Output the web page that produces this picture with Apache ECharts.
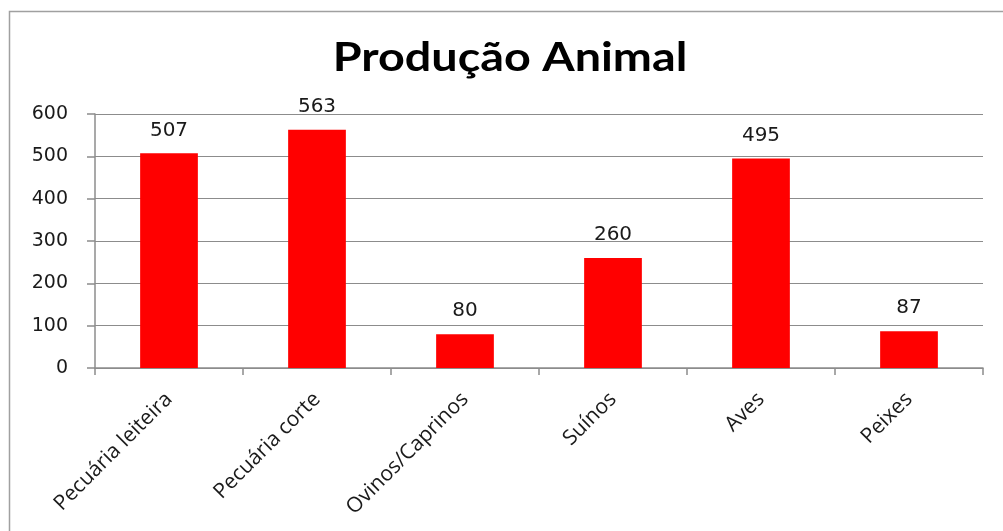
<!DOCTYPE html>
<html><head><meta charset="utf-8">
<script src="https://cdn.jsdelivr.net/npm/echarts@6/dist/echarts.min.js"></script>
<style>html,body{margin:0;padding:0;background:#fff}#c{width:1003px;height:531px}</style>
</head><body><div id="c"></div>
<script>
const categories = ["Pecuária leiteira", "Pecuária corte", "Ovinos/Caprinos", "Suínos", "Aves", "Peixes"];
const values = [507, 563, 80, 260, 495, 87];
const yTicks = [0, 100, 200, 300, 400, 500, 600];
const titleText = 'Produção Animal';

const chart = echarts.init(document.getElementById('c'), null, {renderer: 'canvas'});
chart.setOption({
  animation: false,
  backgroundColor: '#fff',
  graphic: [{
    type: 'rect', shape: {x: 9.5, y: 11.5, width: 1010, height: 540},
    style: {fill: 'none', stroke: '#a0a0a0', lineWidth: 1.5}, z: -1
  }, {
    type: 'text', x: 510, y: 58, scaleX: 1.14, scaleY: 1,
    style: {text: titleText, fontFamily: 'Lato', fontWeight: 'bold', fontSize: 41, fill: '#000',
      align: 'center', verticalAlign: 'middle'}
  }],
  grid: {left: 95, right: 20, top: 114, bottom: 163, containLabel: false},
  xAxis: {
    type: 'category', data: categories,
    axisLine: {lineStyle: {color: '#8c8c8c', width: 1.5}},
    axisTick: {show: true, alignWithLabel: false, length: 7, lineStyle: {color: '#8c8c8c', width: 1.5}},
    axisLabel: {rotate: 45, interval: 0, margin: 28, fontFamily: 'Open Sans', fontSize: 21, color: '#1a1a1a'}
  },
  yAxis: {
    type: 'value', min: 0, max: 600, interval: 100,
    axisLine: {show: true, lineStyle: {color: '#8c8c8c', width: 1.5}},
    axisTick: {show: true, length: 8, lineStyle: {color: '#8c8c8c', width: 1.5}},
    splitLine: {lineStyle: {color: '#8c8c8c', width: 1.2}},
    axisLabel: {margin: 27, fontFamily: 'DejaVu Sans', fontSize: 19, color: '#1a1a1a',
      formatter: v => yTicks.includes(v) ? String(v) : ''}
  },
  series: [{
    type: 'bar', data: values, barWidth: '39%',
    itemStyle: {color: '#ff0000'},
    label: {show: true, position: 'top', distance: 13, fontFamily: 'DejaVu Sans', fontSize: 20, color: '#1a1a1a'}
  }]
});
</script></body></html>
